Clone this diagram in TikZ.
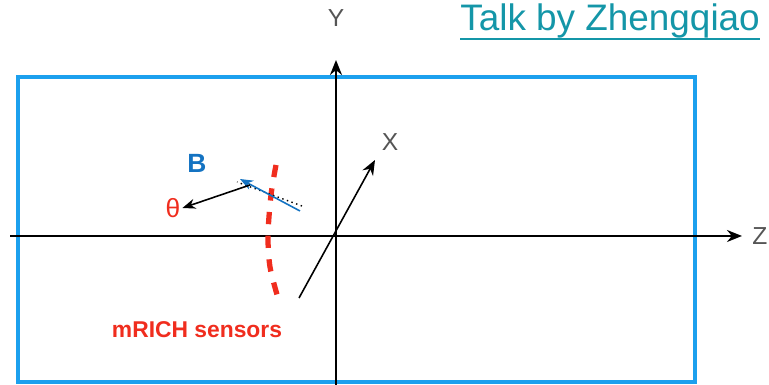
\documentclass[tikz,border=0pt]{standalone}
\usepackage{fontspec}
\setmainfont{Liberation Sans}
\usepackage{xcolor}
\definecolor{boxblue}{RGB}{28,160,238}
\definecolor{bblue}{RGB}{20,115,194}
\definecolor{sensred}{RGB}{240,45,30}
\definecolor{talkteal}{RGB}{20,150,168}
\definecolor{axgray}{RGB}{85,85,85}
\usetikzlibrary{arrows.meta, positioning}

\tikzset{
  axis/.style={black, line width=1.3pt, -{Stealth[length=3mm, width=2.4mm]}},
  axlabel/.style={font=\fontsize{14}{16}\selectfont, text=axgray, inner sep=0pt},
  thinarrow/.style={line width=0.9pt, -{Stealth[length=2.6mm, width=2mm]}}
}

\begin{document}
\begin{tikzpicture}[x=0.02cm, y=0.02cm]

\useasboundingbox (0,0) rectangle (769,385);
\clip (0,0) rectangle (769,385);

% === Detector frame ===
\draw[boxblue, line width=1.8pt] (18,3) rectangle (695,308);

% === Axes ===
\coordinate (zstart) at (10,149);
\coordinate (zend) at (742,149);
\coordinate (ystart) at (336,0);
\coordinate (yend) at (336,325);
\coordinate (xstart) at (299,87);
\coordinate (xend) at (375,225);

\draw[axis] (zstart) -- (zend);
\draw[axis] (ystart) -- (yend);
\draw[axis, line width=0.9pt] (xstart) -- (xend);

\node[axlabel] (zlabel) at (760,149) {Z};
\node[axlabel] (ylabel) at (336,367) {Y};
\node[axlabel] (xlabel) at (390,243) {X};

% === mRICH sensor plane ===
\draw[sensred, line width=3pt, dash pattern=on 7pt off 6.5pt]
  plot[smooth] coordinates {(276,220) (271,190) (268,150) (270,118) (278,87)};

% === Field and tilt ===
\coordinate (bstart) at (300,174);
\coordinate (bend) at (240,206);
\coordinate (dstart) at (302,179);
\coordinate (dend) at (237,203);
\coordinate (tstart) at (250,200);

\draw[black, line width=0.8pt, dotted] (dstart) -- (dend);
\draw[bblue, thinarrow] (bstart) -- (bend);

\node[font=\fontsize{15}{17}\selectfont\bfseries, text=bblue] (bfield) at (197,222) {B};
\node[font=\fontsize{15}{17}\selectfont, text=sensred, inner sep=1pt] (theta) at (173,177) {θ};
\draw[thinarrow] (tstart) -- (theta.east);

% === Labels ===
\node[font=\fontsize{13}{15}\selectfont\bfseries, text=sensred] (sensors) at (197,55) {mRICH sensors};
\node[font=\fontsize{21}{24}\selectfont, text=talkteal, anchor=base west, inner sep=0pt]
  (talk) at (460,354) {Talk by Zhengqiao};
\draw[talkteal, line width=1.3pt] ([yshift=-4.5]talk.base west) -- ([yshift=-4.5]talk.base east);

\end{tikzpicture}
\end{document}
